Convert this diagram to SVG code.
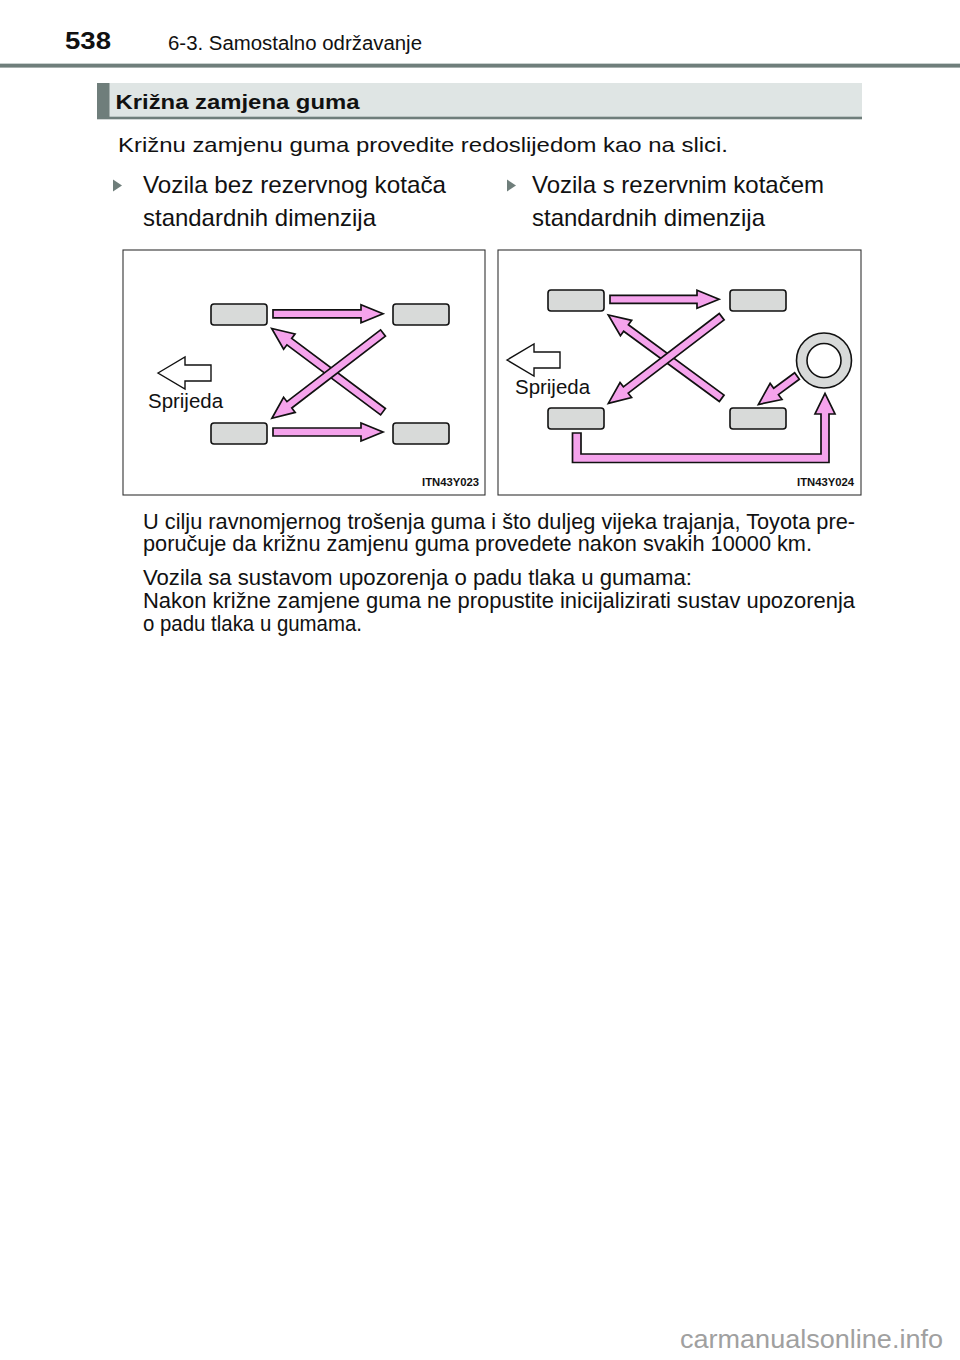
<svg xmlns="http://www.w3.org/2000/svg" width="960" height="1360" viewBox="0 0 960 1360">
<style>
text{font-family:"Liberation Sans",Arial,sans-serif;fill:#111}
.tire{fill:#d8dad9;stroke:#111;stroke-width:1.6}
.pk{fill:#f5a3ec;stroke:#111;stroke-width:1.7;stroke-linejoin:miter}
.front{fill:#fff;stroke:#111;stroke-width:1.4}
.box{fill:#fff;stroke:#333;stroke-width:1.1}
.body{font-size:21.5px}
.bul{font-size:24px}
.code{font-size:10.5px;font-weight:bold}
.spr{font-size:20.5px}
</style>
<rect width="960" height="1360" fill="#fff"/>
<g id="header">
<text x="65" y="48.5" font-size="23" font-weight="bold" textLength="46" lengthAdjust="spacingAndGlyphs">538</text>
<text x="168" y="49.5" font-size="20" textLength="254" lengthAdjust="spacingAndGlyphs">6-3. Samostalno održavanje</text>
<rect x="0" y="63" width="960" height="1" fill="#c9d1cf"/>
<rect x="0" y="64" width="960" height="3.6" fill="#6f7e7b"/>
</g>
<g id="section-title">
<rect x="97" y="83" width="765" height="36" fill="#dfe5e4"/>
<rect x="97" y="83" width="12.5" height="36" fill="#6f7e7b"/>
<rect x="97" y="116.7" width="765" height="2.6" fill="#6f7e7b"/>
<text x="115.5" y="109" font-size="21" font-weight="bold" textLength="244" lengthAdjust="spacingAndGlyphs">Križna zamjena guma</text>
</g>
<g id="intro">
<text x="118" y="151.5" font-size="21" textLength="610" lengthAdjust="spacingAndGlyphs">Križnu zamjenu guma provedite redoslijedom kao na slici.</text>
</g>
<g id="bullet-left">
<polygon points="113,179.5 122,185.5 113,191.5" fill="#6f7e7b"/>
<text class="bul" x="143" y="193" textLength="303" lengthAdjust="spacingAndGlyphs">Vozila bez rezervnog kotača</text>
<text class="bul" x="143" y="226" textLength="233" lengthAdjust="spacingAndGlyphs">standardnih dimenzija</text>
</g>
<g id="bullet-right">
<polygon points="507,179.5 516,185.5 507,191.5" fill="#6f7e7b"/>
<text class="bul" x="532" y="193" textLength="292" lengthAdjust="spacingAndGlyphs">Vozila s rezervnim kotačem</text>
<text class="bul" x="532" y="226" textLength="233" lengthAdjust="spacingAndGlyphs">standardnih dimenzija</text>
</g>
<g id="panel-left">
<rect class="box" x="123" y="250" width="362" height="245"/>
<g id="tires-left">
<rect class="tire" x="211" y="304" width="56" height="21" rx="3"/>
<rect class="tire" x="393" y="304" width="56" height="21" rx="3"/>
<rect class="tire" x="211" y="423" width="56" height="21" rx="3"/>
<rect class="tire" x="393" y="423" width="56" height="21" rx="3"/>
</g>
<polygon class="front" points="158,373 185,357 185,365 211,365 211,381 185,381 185,389"/>
<text class="spr" x="148" y="407.5" textLength="75" lengthAdjust="spacingAndGlyphs">Sprijeda</text>
<text class="code" x="479" y="486" text-anchor="end" textLength="57" lengthAdjust="spacingAndGlyphs">ITN43Y023</text>
</g>
<g id="panel-right">
<rect class="box" x="498" y="250" width="363" height="245"/>
<g id="tires-right">
<rect class="tire" x="548" y="290" width="56" height="21" rx="3"/>
<rect class="tire" x="730" y="290" width="56" height="21" rx="3"/>
<rect class="tire" x="548" y="408" width="56" height="21" rx="3"/>
<rect class="tire" x="730" y="408" width="56" height="21" rx="3"/>
</g>
<g id="spare">
<circle cx="824" cy="360.5" r="27.5" fill="#d8dad9" stroke="#111" stroke-width="1.6"/>
<circle cx="824" cy="360.5" r="17" fill="#fff" stroke="#111" stroke-width="1.6"/>
</g>
<polygon class="front" points="507,360 534,344 534,352 560,352 560,368 534,368 534,376"/>
<text class="spr" x="515" y="393.5" textLength="75" lengthAdjust="spacingAndGlyphs">Sprijeda</text>
<text class="code" x="854" y="486" text-anchor="end" textLength="57" lengthAdjust="spacingAndGlyphs">ITN43Y024</text>
</g>
<g id="connectors">
<path class="pk" transform="translate(273,313.8)" d="M0,-4H88V-9L110,0L88,9V4H0Z"/>
<path class="pk" transform="translate(273,432)" d="M0,-4H88V-9L110,0L88,9V4H0Z"/>
<path class="pk" transform="translate(383,411.7) rotate(-143.2)" d="M0,-4H117V-9.5L139,0L117,9.5V4H0Z"/>
<path class="pk" transform="translate(383,333) rotate(142.5)" d="M0,-4H118V-9.5L140,0L118,9.5V4H0Z"/>
<path class="pk" transform="translate(610,299.3)" d="M0,-4H87V-9L109,0L87,9V4H0Z"/>
<path class="pk" transform="translate(721.7,398.3) rotate(-143.7)" d="M0,-4H118.7V-9.5L140.7,0L118.7,9.5V4H0Z"/>
<path class="pk" transform="translate(721.7,316.7) rotate(142.6)" d="M0,-4H120.7V-9.5L142.7,0L120.7,9.5V4H0Z"/>
<path class="pk" transform="translate(797,376) rotate(143.6)" d="M0,-4H26V-10L48,0L26,10V4H0Z"/>
<path class="pk" d="M572.5,433H581V454H821V414H815L825,393.5L835,414H829V462.5H572.5Z"/>
</g>
<g id="notes">
<text class="body" x="143" y="528.5" textLength="712" lengthAdjust="spacingAndGlyphs">U cilju ravnomjernog trošenja guma i što duljeg vijeka trajanja, Toyota pre-</text>
<text class="body" x="143" y="551" textLength="669" lengthAdjust="spacingAndGlyphs">poručuje da križnu zamjenu guma provedete nakon svakih 10000 km.</text>
<text class="body" x="143" y="584.5" textLength="549" lengthAdjust="spacingAndGlyphs">Vozila sa sustavom upozorenja o padu tlaka u gumama:</text>
<text class="body" x="143" y="607.5" textLength="712" lengthAdjust="spacingAndGlyphs">Nakon križne zamjene guma ne propustite inicijalizirati sustav upozorenja</text>
<text class="body" x="143" y="631" textLength="219" lengthAdjust="spacingAndGlyphs">o padu tlaka u gumama.</text>
</g>
<g id="watermark">
<text x="680" y="1348" font-size="25" style="fill:#a0a0a0" textLength="263" lengthAdjust="spacingAndGlyphs">carmanualsonline.info</text>
</g>
</svg>
